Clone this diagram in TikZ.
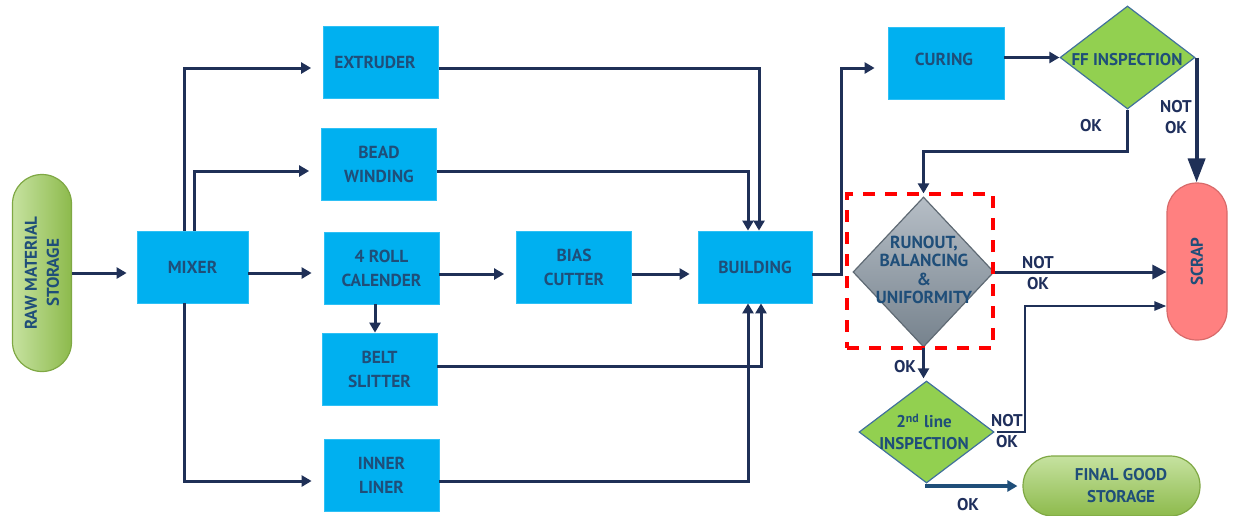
\documentclass[tikz,border=0pt]{standalone}
\usepackage{fontspec}
\setmainfont{PT Sans}
\usetikzlibrary{arrows.meta,shapes.geometric}
\definecolor{boxblue}{HTML}{00B0F0}
\definecolor{boxedge}{HTML}{2EC0F5}
\definecolor{txtblue}{HTML}{1F4E79}
\definecolor{navy}{HTML}{1F3057}
\definecolor{lblnavy}{HTML}{1F2F5C}
\definecolor{ffgreen}{HTML}{92D050}
\definecolor{dmdedge}{HTML}{41719C}
\definecolor{scrapred}{HTML}{FF8080}
\definecolor{scrapedge}{HTML}{D86A6A}
\definecolor{greenL}{HTML}{C6E2A0}
\definecolor{greenD}{HTML}{8DBA4C}
\definecolor{greenE}{HTML}{7FA844}
\definecolor{grayT}{HTML}{B6BEC6}
\definecolor{grayB}{HTML}{76828D}
\definecolor{grayE}{HTML}{5F6A74}
\begin{document}
\begin{tikzpicture}[x=0.5pt,y=-0.5pt,
  proc/.style={rectangle, fill=boxblue, draw=boxedge, line width=0.4pt,
    minimum width=57.5pt, minimum height=36pt, inner sep=0pt,
    font=\bfseries\fontsize{8.7}{12}\selectfont, text=txtblue, align=center},
  ptext/.style={font=\bfseries\fontsize{8.7}{12}\selectfont, text=txtblue, align=center, inner sep=0pt},
  pill/.style={rectangle, inner sep=0pt, line width=0.6pt},
  dmd/.style={diamond, inner sep=0pt, line width=0.6pt},
  dtext/.style={font=\bfseries\fontsize{8.5}{11}\selectfont, text=txtblue, align=center, inner sep=0pt},
  rtext/.style={font=\bfseries\fontsize{8.7}{9.3}\selectfont, text=txtblue, align=center, inner sep=0pt},
  lbl/.style={font=\bfseries\fontsize{8.5}{10.5}\selectfont, text=lblnavy, align=center, inner sep=0pt},
  conn/.style={draw=navy, line width=1.5pt},
  arr/.style={conn, -{Triangle[length=5pt,width=5.5pt]}},
]
\useasboundingbox (0,0) rectangle (1237,515);

% ---------- left part ----------
\node[pill, rounded corners=14.7pt, minimum width=29.5pt, minimum height=98.5pt,
  left color=greenL, right color=greenD, draw=greenE] (raw) at (42,273) {};
\node[dtext, rotate=90] (rawt) at (raw.center) {RAW MATERIAL\\STORAGE};

\node[proc, minimum width=55.5pt] (mixer) at (192.5,267) {MIXER};
\node[proc] (ext)   at (381,62)    {};
\node[ptext] (extt) at (375,62) {EXTRUDER};
\node[proc] (bead)  at (379,164)   {BEAD\\WINDING};
\node[proc] (cal)   at (381.5,268) {4 ROLL\\CALENDER};
\node[proc] (bias)  at (574,267)   {BIAS\\CUTTER};
\node[proc] (belt)  at (379.5,369) {BELT\\SLITTER};
\node[proc] (inner) at (381.5,475.5) {INNER\\LINER};
\node[proc, minimum width=57pt] (build) at (755,267) {BUILDING};
\node[proc, minimum width=58pt] (cur) at (946,63) {};
\node[ptext] (curt) at (944,59) {CURING};

% ---------- right part ----------
\node[dmd, fill=ffgreen, draw=dmdedge, minimum width=67.5pt, minimum height=51.5pt] (ff) at (1127.5,57.5) {};
\node[dtext] (fft) at (1127,60) {FF INSPECTION};

\node[dmd, top color=grayT, bottom color=grayB, draw=grayE, minimum width=70.5pt, minimum height=75pt] (rd) at (923.5,272) {};
\node[rtext] (rdt) at (924,270) {RUNOUT,\\BALANCING\\\&\\UNIFORMITY};
\node[draw=red, line width=1.6pt, dash pattern=on 6pt off 5pt, minimum width=73pt, minimum height=77pt, inner sep=0pt] (sel) at (920,271) {};

\node[dmd, fill=ffgreen, draw=dmdedge, minimum width=67.5pt, minimum height=51pt] (sec) at (926.5,432) {};
\node[dtext] (sect) at (924,432) {2\textsuperscript{nd} line\\INSPECTION};

\node[pill, rounded corners=14.9pt, minimum width=30pt, minimum height=78.5pt,
  fill=scrapred, draw=scrapedge] (scrap) at (1197,261.5) {};
\node[dtext, rotate=90] (scrapt) at (scrap.center) {SCRAP};

\node[pill, rounded corners=14.9pt, minimum width=88.5pt, minimum height=30pt,
  top color=greenL, bottom color=greenD, draw=greenE] (fin) at (1111.5,486) {};
\node[dtext] (fint) at (1121,486) {FINAL GOOD\\STORAGE};

% ---------- connectors ----------
\draw[arr, shorten >=5pt] (raw.east |- 0,273) -- (mixer.west |- 0,273);
\draw[arr, shorten >=6pt] (mixer.east |- 0,273) -- (cal.west |- 0,273);
\draw[arr, shorten >=6pt] (mixer.north -| 184,0) -- (184,68) -- (ext.west |- 0,68);
\draw[arr, shorten >=6pt] (mixer.north -| 194,0) -- (194,171) -- (bead.west |- 0,171);
\draw[arr, shorten >=6pt] (mixer.south -| 184,0) -- (184,481) -- (inner.west |- 0,481);

\draw[arr] (ext.east |- 0,68) -| (build.north -| 759,0);
\draw[arr] (bead.east |- 0,171) -| (build.north -| 748,0);
\draw[arr, shorten >=6pt] (cal.east |- 0,274) -- (bias.west |- 0,274);
\draw[arr] (cal.south -| 375,0) -- (belt.north -| 375,0);
\draw[arr, shorten >=4pt] (bias.east |- 0,274) -- (build.west |- 0,274);
\draw[arr] (belt.east |- 0,366) -| (build.south -| 761,0);
\draw[arr] (inner.east |- 0,481) -| (build.south -| 748,0);

\draw[arr, shorten >=6.5pt] (build.east |- 0,274) -- (841,274) -- (841,68) -- (cur.west |- 0,68);
\draw[arr] (cur.east |- ff.west) -- (ff.west);
\draw[draw=navy, line width=2pt, -{Triangle[length=12pt,width=8.5pt]}] (ff.east) ++(1,0) coordinate (ffr) (ffr) -- (ffr |- scrap.north);
\draw[arr, shorten >=1.5pt] (ff.south) -- (ff.south |- 0,151) -| (rd.north);
\draw[conn, -{Triangle[length=7pt,width=7pt]}] (rd.east) -- (scrap.west |- rd.east);
\draw[arr, shorten >=1pt] (rd.south) -- (rd.south |- sec.north);
\draw[draw=navy, line width=1.2pt, -{Triangle[length=6pt,width=4.5pt]}] (sec.east) ++(2,0) coordinate (secr) (secr) -- (1025,432) -- (1025,306) -- (scrap.west |- 0,306);
\draw[draw=txtblue, line width=2pt, -{Triangle[length=5pt,width=5.5pt]}, shorten >=2.5pt] (sec.south) -- (sec.south |- 0,486) -- (fin.west);

% ---------- labels ----------
\node[lbl] (l1) at (1176,117) {NOT\\OK};
\node[lbl] (l2) at (1091,126) {OK};
\node[lbl] (l3) at (1038,273) {NOT\\OK};
\node[lbl] (l4) at (905,367) {OK};
\node[lbl] (l5) at (1007,431.5) {NOT\\OK};
\node[lbl] (l6) at (968,505) {OK};
\end{tikzpicture}
\end{document}
